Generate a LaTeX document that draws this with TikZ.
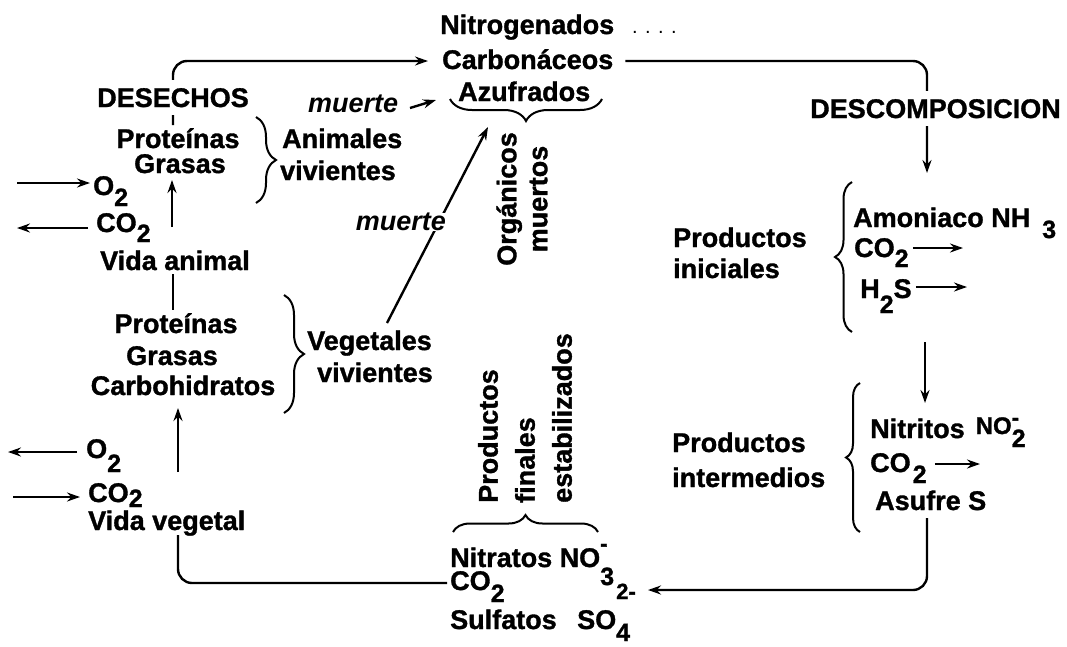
\documentclass[tikz,border=0pt]{standalone}
\usepackage{fontspec}
\setmainfont{Liberation Sans}[BoldFeatures={FakeBold=1.2}]
\usetikzlibrary{arrows.meta,decorations.pathreplacing}
\newcommand{\mysub}[2]{\raisebox{-#1pt}{\fontsize{25}{25}\selectfont #2}}
\newcommand{\mysup}[2]{\raisebox{#1pt}{\fontsize{22}{22}\selectfont #2}}
\tikzset{
  tx/.style={font=\bfseries\fontsize{27}{31}\selectfont, inner sep=0pt, anchor=base west},
  txc/.style={tx, anchor=base},
  itx/.style={font=\bfseries\itshape\fontsize{27}{31}\selectfont, inner sep=0pt},
  ln/.style={line width=2.4pt},
  arr/.style={line width=2.4pt, -{Stealth[length=13pt,width=9pt]}},
  brc/.style={line width=2pt, decorate, decoration={brace, amplitude=#1}},
}
\begin{document}
\begin{tikzpicture}[x=1pt,y=1pt]
\fill[white] (0,0) rectangle (1067,-646);
\useasboundingbox (0,0) rectangle (1067,-646);

% ---- top group: dead organics
\node[tx] (nit) at (440,-34) {Nitrogenados};
\node[tx, font=\fontsize{20}{20}\selectfont] (dots) at (632,-33) {. . . .};
\node[tx] (carb) at (442,-69) {Carbonáceos};
\node[tx] (azu) at (458,-101) {Azufrados};
\draw[brc=22pt] (602,-99) -- (450,-99);
\node[font=\bfseries\fontsize{27}{31}\selectfont, inner sep=0pt, rotate=90, align=center] (org) at (522,-199) {Orgánicos\\muertos};

% ---- left: animal life
\coordinate (p1top) at (173,-125);
\draw[arr, rounded corners=14pt] (p1top) |- ([xshift=-14pt,yshift=8pt]carb.base west);
\node[txc, fill=white, inner ysep=8pt] (des) at (173,-107) {DESECHOS};
\node[tx, itx, anchor=base west] (mu1) at (308,-112) {muerte};
\coordinate (m1s) at (410,-108);
\coordinate (m1e) at (436,-100);
\draw[arr] (m1s) -- (m1e);
\node[txc] (p1) at (178,-148) {Proteínas};
\node[txc] (g1) at (180,-173) {Grasas};
\draw[brc=20pt] (256,-117) -- (256,-203);
\node[tx] (an1) at (282,-148) {Animales};
\node[tx] (an2) at (280,-180) {vivientes};
\node[tx] (o2a) at (93,-195) {O\mysub{11}{2}};
\node[tx] (co2a) at (96,-232) {CO\mysub{10}{2}};
\node[tx] (va) at (100,-270) {Vida animal};
\coordinate (o2ain) at (17,-183);
\draw[arr] (o2ain) -- ([xshift=-3pt,yshift=12pt]o2a.base west);
\coordinate (co2aout) at (17,-228);
\draw[arr] ([xshift=-8pt,yshift=4pt]co2a.base west) -- (co2aout);
\coordinate (vaup) at (172,-227);
\coordinate (vatip) at (172,-180);
\draw[arr] (vaup) -- (vatip);

% ---- left: plant life
\coordinate (va2) at (173,-274);
\coordinate (p2top) at (173,-310);
\draw[ln] (va2) -- (p2top);
\node[txc] (p2) at (176,-333) {Proteínas};
\node[txc] (g2) at (172,-365) {Grasas};
\node[txc] (c2) at (183,-395) {Carbohidratos};
\draw[brc=20pt] (284,-295) -- (284,-413);
\node[tx] (ve1) at (307,-350) {Vegetales};
\node[tx] (ve2) at (317,-382) {vivientes};
\coordinate (vegtop) at (387,-323);
\coordinate (orgtip) at (488,-127);
\draw[arr] (vegtop) -- node[pos=0.515, anchor=east, xshift=8pt, fill=white, inner xsep=3pt, inner ysep=8pt, itx] (mu2) {muerte} (orgtip);
\node[tx] (o2b) at (86,-458) {O\mysub{14}{2}};
\node[tx] (co2b) at (88,-502) {CO\mysub{5}{2}};
\node[tx] (vv) at (88,-530) {Vida vegetal};
\coordinate (vvup) at (178,-472);
\coordinate (vvtip) at (178,-408);
\draw[arr] (vvup) -- (vvtip);
\coordinate (o2bout) at (8,-452);
\draw[arr] ([xshift=-9pt,yshift=6pt]o2b.base west) -- (o2bout);
\coordinate (co2bin) at (13,-497);
\draw[arr] (co2bin) -- ([xshift=-8pt,yshift=5pt]co2b.base west);

% ---- bottom: final products
\node[tx] (nitra) at (450,-567) {Nitratos NO\rlap{\mysup{16}{-}}\mysub{18}{3}};
\node[tx] (co2c) at (450,-590) {CO\mysub{12}{2}};
\node[tx] (sulf) at (450,-629) {Sulfatos\hspace{13pt} SO\rlap{\mysup{30}{2-}}\mysub{12}{4}};
\draw[brc=17pt] (453,-532) -- (598,-532);
\node[font=\bfseries\fontsize{27}{37}\selectfont, inner sep=0pt, rotate=90, align=left, anchor=west] (pfe) at (525,-503) {Productos\\finales\\estabilizados};
\coordinate (vvdown) at (178,-535);
\draw[ln, rounded corners=14pt] (vvdown) |- ([xshift=-3pt,yshift=7pt]co2c.base west);

% ---- right: decomposition
\coordinate (dtip) at (927,-173);
\draw[arr, rounded corners=14pt] ([xshift=12pt,yshift=8pt]carb.base east) -| (dtip);
\node[tx, fill=white, inner xsep=0pt, inner ysep=8pt] (desc) at (810,-118) {DESCOMPOSICION};
\node[tx] (pi1) at (673,-247) {Productos};
\node[tx] (pi2) at (673,-278) {iniciales};
\draw[brc=17pt] (852,-332) -- (852,-182);
\node[tx] (am) at (853,-227) {Amoniaco NH\hspace{12pt}\mysub{11}{3}};
\node[tx] (co2i) at (854,-257) {CO\mysub{10}{2}};
\node[tx] (h2s) at (860,-298) {H\mysub{15}{2}S};
\coordinate (co2ie) at (963,-248);
\draw[arr] ([xshift=4pt,yshift=9pt]co2i.base east) -- (co2ie);
\coordinate (h2se) at (967,-287);
\draw[arr] ([xshift=4pt,yshift=11pt]h2s.base east) -- (h2se);
\coordinate (dmid) at (925,-342);
\coordinate (dtip2) at (925,-403);
\draw[arr] (dmid) -- (dtip2);
\node[tx] (pm1) at (672,-452) {Productos};
\node[tx] (pm2) at (672,-487) {intermedios};
\draw[brc=14pt] (860,-532) -- (860,-383);
\node[tx] (nitr) at (870,-438) {Nitritos\hspace{11pt}\raisebox{4pt}{\fontsize{24}{24}\selectfont NO}\rlap{\mysup{13}{-}}\mysub{9}{2}};
\node[tx] (co2m) at (870,-472) {CO\hspace{2pt}\mysub{11}{2}};
\coordinate (co2me) at (980,-464);
\draw[arr] ([xshift=8pt,yshift=8pt]co2m.base east) -- (co2me);
\node[tx] (asu) at (875,-510) {Asufre S};
\coordinate (asdown) at (927,-518);
\coordinate (btip) at (648,-590);
\draw[arr, rounded corners=14pt] (asdown) |- (btip);
\end{tikzpicture}
\end{document}
